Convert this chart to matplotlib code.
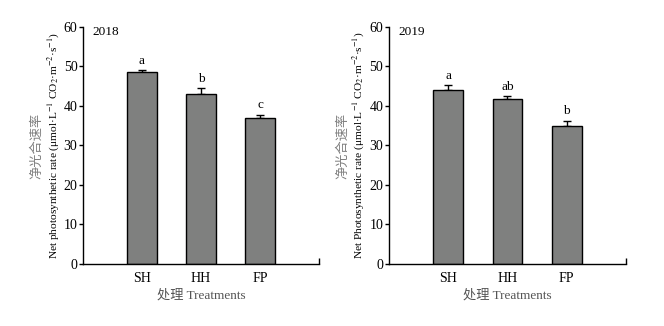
import matplotlib
matplotlib.use("Agg")
import matplotlib.pyplot as plt

plt.rcParams['font.family'] = ['Liberation Serif', 'Noto Sans CJK SC']
plt.rcParams['mathtext.fontset'] = 'stix'

treatments = ["SH", "HH", "FP"]
years = ["2018", "2019"]
pn_2018 = [48.6, 43.0, 37.0]
err_2018 = [0.5, 1.5, 0.8]
sig_2018 = ["a", "b", "c"]
pn_2019 = [44.0, 41.8, 35.0]
err_2019 = [1.3, 0.7, 1.3]
sig_2019 = ["a", "ab", "b"]

en_labels = [
    r"Net photosynthetic rate (μmol·L$^{-1}$ CO$_2$·m$^{-2}$·s$^{-1}$)",
    r"Net Photosynthetic rate (μmol·L$^{-1}$ CO$_2$·m$^{-2}$·s$^{-1}$)",
]
cn_label = "净光合速率"
x_label = "处理 Treatments"

fig = plt.figure(figsize=(6.64, 3.26), dpi=100)
boxes = [[0.125, 0.1902, 0.3554, 0.727], [0.5854, 0.1902, 0.3574, 0.727]]
series = [(pn_2018, err_2018, sig_2018), (pn_2019, err_2019, sig_2019)]
en_x = [-0.127, -0.13]
cn_x = [-0.197, -0.193]

for i, (box, (vals, errs, sigs)) in enumerate(zip(boxes, series)):
    ax = fig.add_axes(box)
    pos = list(range(1, len(treatments) + 1))
    ax.bar(pos, vals, width=0.5, color="#7f807f", edgecolor="black",
           linewidth=1.0, zorder=2)
    ax.errorbar(pos, vals, yerr=[[0] * len(errs), errs], fmt="none",
                ecolor="black", elinewidth=1.0, capsize=3, capthick=1.0,
                zorder=1)
    for p, v, e, s in zip(pos, vals, errs, sigs):
        ax.text(p, v + e + 1.6, s, ha="center", va="baseline", fontsize=9.5)
    ax.set_xlim(0, 4)
    ax.set_ylim(0, 60)
    ax.set_yticks(range(0, 61, 10))
    ax.set_xticks(pos)
    ax.set_xticklabels(treatments, fontsize=10)
    ax.tick_params(axis="x", length=0, pad=6)
    ax.tick_params(axis="y", direction="out", length=3, width=1.0,
                   pad=1, labelsize=10)
    ax.set_xticks([4], minor=True)
    ax.tick_params(axis="x", which="minor", direction="in", length=4,
                   width=1.0)
    for side in ("top", "right"):
        ax.spines[side].set_visible(False)
    for side in ("left", "bottom"):
        ax.spines[side].set_linewidth(1.0)
    ax.text(0.04, 0.979, years[i], transform=ax.transAxes, ha="left",
            va="center", fontsize=9.5)
    ax.set_xlabel(x_label, fontsize=9.5, color="#555555", labelpad=3)
    # two-line y-axis title: English line next to the axis, Chinese outside
    ax.text(en_x[i], 0.5, en_labels[i], transform=ax.transAxes,
            rotation=90, ha="center", va="center", fontsize=8.2)
    ax.text(cn_x[i], 0.5, cn_label, transform=ax.transAxes,
            rotation=90, ha="center", va="center", fontsize=9.5,
            color="#808080")

fig.savefig("out.png", dpi=100)
